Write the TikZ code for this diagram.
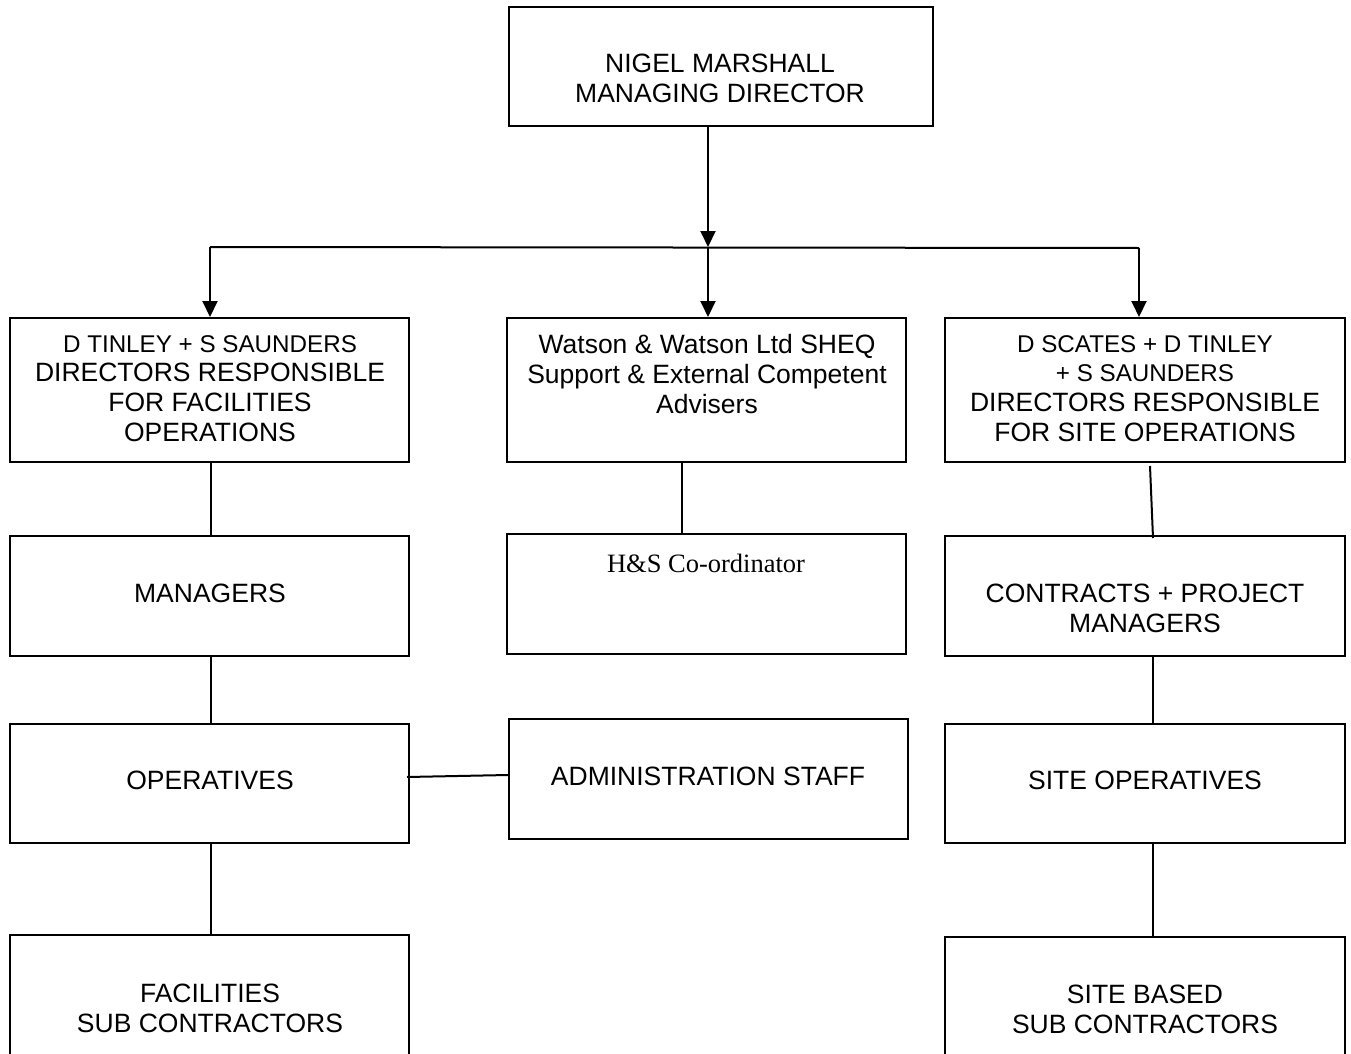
\documentclass[tikz,border=0pt]{standalone}
\usepackage{fontspec}
\setmainfont{Liberation Sans}
\newfontfamily\timesfont{Liberation Serif}
\usetikzlibrary{arrows.meta}
\newcommand{\bigsz}{\fontsize{26.5}{29.8}\selectfont}
\newcommand{\smallsz}{\fontsize{24.2}{29}\selectfont}
\begin{document}
\begin{tikzpicture}[x=1pt,y=-1pt,
  box/.style={draw=black,line width=2pt,inner sep=0pt,minimum width=399pt},
  txt/.style={inner sep=0pt,align=center,font=\bigsz},
  conn/.style={draw=black,line width=2pt},
  arr/.style={conn,-{Triangle[width=15pt,length=16pt]}}]
\useasboundingbox (0,0) rectangle (1351,1054);
\fill[white] (0,0) rectangle (1351,1054);
% boxes
\node[box,minimum width=424pt,minimum height=119pt] (top) at (721,66.5) {};
\node[box,minimum height=144pt] (L1) at (209.5,390) {};
\node[box,minimum height=144pt] (M1) at (706.5,390) {};
\node[box,minimum width=400pt,minimum height=144pt] (R1) at (1145,390) {};
\node[box,minimum height=120pt] (L2) at (209.5,596) {};
\node[box,minimum height=120pt] (M2) at (706.5,594) {};
\node[box,minimum width=400pt,minimum height=120pt] (R2) at (1145,596) {};
\node[box,minimum height=119pt] (L3) at (209.5,783.5) {};
\node[box,minimum height=120pt] (M3) at (708.5,779) {};
\node[box,minimum width=400pt,minimum height=119pt] (R3) at (1145,783.5) {};
\node[box,minimum height=125pt] (L4) at (209.5,997.5) {};
\node[box,minimum width=400pt,minimum height=125pt] (R4) at (1145,999.5) {};
% texts
\node[txt] (topt) at (720,78.5) {NIGEL MARSHALL\\MANAGING DIRECTOR};
\node[txt] (L1t) at (210,388.5) {{\smallsz D TINLEY + S SAUNDERS}\\DIRECTORS RESPONSIBLE\\FOR FACILITIES\\OPERATIONS};
\node[txt] (M1t) at (707,374) {Watson \& Watson Ltd SHEQ\\Support \& External Competent\\Advisers};
\node[txt] (R1t) at (1145,388.5) {{\smallsz D SCATES + D TINLEY}\\{\smallsz + S SAUNDERS}\\DIRECTORS RESPONSIBLE\\FOR SITE OPERATIONS};
\node[txt] (L2t) at (210,593) {MANAGERS};
\node[txt,font=\timesfont\fontsize{26.5}{30}\selectfont] (M2t) at (706,563) {H\&S Co-ordinator};
\node[txt] (R2t) at (1145,608) {CONTRACTS + PROJECT\\MANAGERS};
\node[txt] (L3t) at (210,780) {OPERATIVES};
\node[txt] (M3t) at (708,776) {ADMINISTRATION STAFF};
\node[txt] (R3t) at (1145,780) {SITE OPERATIVES};
\node[txt] (L4t) at (210,1008) {FACILITIES\\SUB CONTRACTORS};
\node[txt] (R4t) at (1145,1009.5) {SITE BASED\\SUB CONTRACTORS};
% connectors
\coordinate (j) at (708,247);
\coordinate (bl) at (210,247);
\coordinate (br) at (1139,248);
\draw[conn] (bl) -- (br);
\draw[arr] ([xshift=-13pt]top.south) -- (j);
\draw[arr] (j) -- (j |- M1.north);
\draw[arr] (bl) -- (bl |- L1.north);
\draw[arr] (br) -- (br |- R1.north);
\draw[conn] ([xshift=1.5pt]L1.south) -- ([xshift=1.5pt]L2.north);
\draw[conn] ([xshift=1.5pt]L2.south) -- ([xshift=1.5pt]L3.north);
\draw[conn] ([xshift=1.5pt]L3.south) -- ([xshift=1.5pt]L4.north);
\draw[conn] ([xshift=-24.5pt]M1.south) -- ([xshift=-24.5pt]M2.north);
\draw[conn] ([xshift=5pt,yshift=-3pt]R1.south) -- ([xshift=8pt,yshift=-3pt]R2.north);
\draw[conn] ([xshift=8pt]R2.south) -- ([xshift=8pt]R3.north);
\draw[conn] ([xshift=8pt]R3.south) -- ([xshift=8pt]R4.north);
\draw[conn] ([xshift=-3pt,yshift=6.5pt]L3.east) -- ([yshift=4pt]M3.west);
\end{tikzpicture}
\end{document}
